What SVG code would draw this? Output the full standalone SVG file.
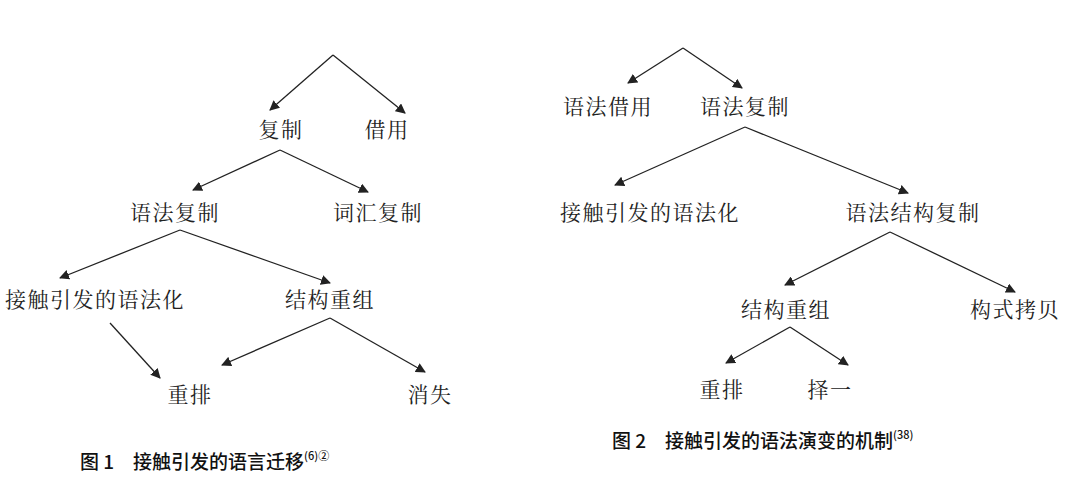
<svg xmlns="http://www.w3.org/2000/svg" width="1070" height="500" viewBox="0 0 1070 500">
<style>
text{font-family:"Noto Serif CJK SC","Noto Sans CJK SC",sans-serif;font-size:21px;letter-spacing:1.5px;fill:#222;text-anchor:middle}
.cap{font-family:"Noto Sans CJK SC",sans-serif;font-size:19px;letter-spacing:0;font-weight:500;text-anchor:start;fill:#111}
.sup{font-size:11px}
line{stroke:#222;stroke-width:1.3;marker-end:url(#a)}
</style>
<defs><marker id="a" viewBox="0 0 10 10" refX="9" refY="5" markerWidth="10" markerHeight="10" markerUnits="userSpaceOnUse" orient="auto"><path d="M0,0L10,5L0,10z" fill="#222"/></marker></defs>
<rect width="1070" height="500" fill="#fff"/>
<g id="connectors">
<line x1="333" y1="55" x2="270" y2="110"/><line x1="333" y1="55" x2="405" y2="113"/>
<line x1="280" y1="150" x2="193" y2="190"/><line x1="280" y1="150" x2="368" y2="192"/>
<line x1="180" y1="230" x2="60" y2="278"/><line x1="180" y1="230" x2="330" y2="283"/>
<line x1="110" y1="323" x2="160" y2="378"/>
<line x1="330" y1="318" x2="222" y2="365"/><line x1="330" y1="318" x2="425" y2="372"/>
<line x1="683" y1="48" x2="628" y2="83"/><line x1="683" y1="48" x2="742" y2="88"/>
<line x1="745" y1="127" x2="615" y2="185"/><line x1="745" y1="127" x2="908" y2="193"/>
<line x1="890" y1="232" x2="785" y2="285"/><line x1="890" y1="232" x2="1015" y2="292"/>
<line x1="790" y1="327" x2="726" y2="363"/><line x1="790" y1="327" x2="848" y2="365"/>
</g>
<g id="n1"><text x="281" y="137">复制</text></g>
<g id="n2"><text x="387" y="137">借用</text></g>
<g id="n3"><text x="175" y="220">语法复制</text></g>
<g id="n4"><text x="378" y="220">词汇复制</text></g>
<g id="n5"><text x="95" y="307">接触引发的语法化</text></g>
<g id="n6"><text x="330" y="307">结构重组</text></g>
<g id="n7"><text x="190" y="402">重排</text></g>
<g id="n8"><text x="430" y="402">消失</text></g>
<g id="m1"><text x="608" y="114">语法借用</text></g>
<g id="m2"><text x="745" y="114">语法复制</text></g>
<g id="m3"><text x="650" y="220">接触引发的语法化</text></g>
<g id="m4"><text x="913" y="220">语法结构复制</text></g>
<g id="m5"><text x="786" y="317">结构重组</text></g>
<g id="m6"><text x="1015" y="317">构式拷贝</text></g>
<g id="m7"><text x="722" y="397">重排</text></g>
<g id="m8"><text x="830" y="397">择一</text></g>
<g id="cap1"><text class="cap" x="80" y="469">图 1　接触引发的语言迁移<tspan class="sup" dy="-9">(6)②</tspan></text></g>
<g id="cap2"><text class="cap" x="612" y="448">图 2　接触引发的语法演变的机制<tspan class="sup" dy="-9">(38)</tspan></text></g>
</svg>
